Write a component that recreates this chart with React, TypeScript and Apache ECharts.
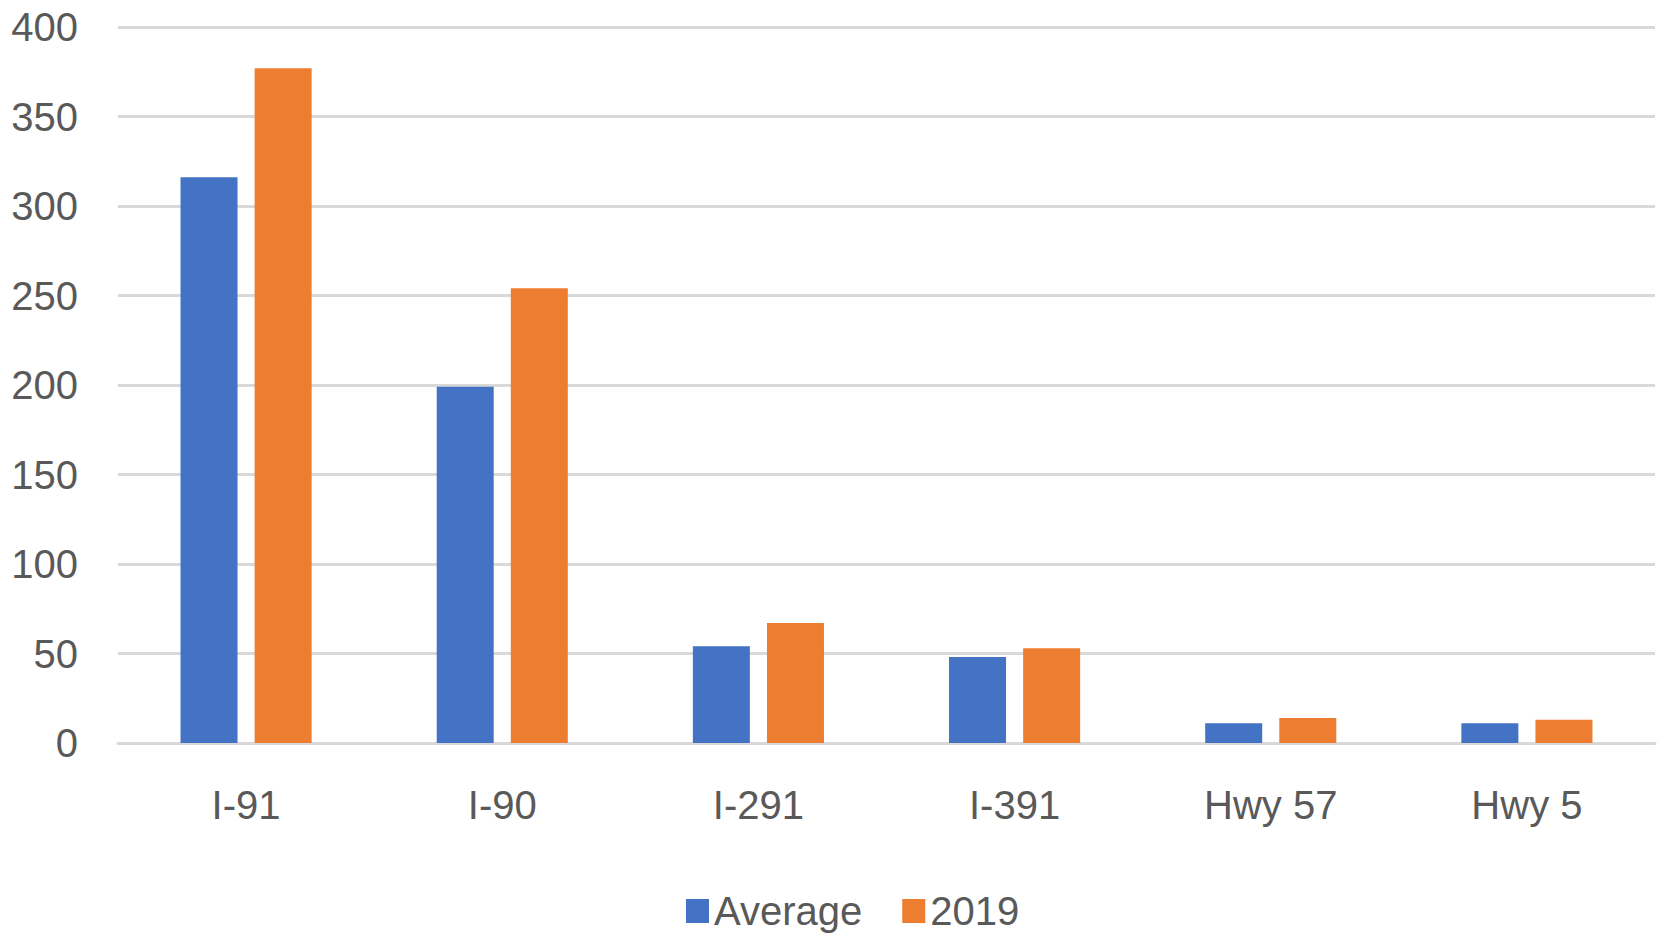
import React, { useEffect, useRef } from "react";
import * as echarts from "echarts";

const categories = ["I-91", "I-90", "I-291", "I-391", "Hwy 57", "Hwy 5"];
const averageValues = [316, 199, 54, 48, 11, 11];
const values2019 = [377, 254, 67, 53, 14, 13];
const seriesNames = ["Average", "2019"];

const FONT = "'Liberation Sans', Arial, sans-serif";
const TEXT = "#595959";

export default function App() {
  const ref = useRef<HTMLDivElement>(null);
  useEffect(() => {
    const chart = echarts.init(ref.current!, null, { renderer: "svg" });
    chart.setOption({
      animation: false,
      backgroundColor: "#ffffff",
      textStyle: { fontFamily: FONT },
      grid: { left: 118, right: 5, top: 27, bottom: 193, containLabel: false },
      legend: {
        data: seriesNames,
        top: 886,
        left: 681,
        itemWidth: 23,
        itemHeight: 24,
        itemGap: 40,
        icon: "rect",
        textStyle: { fontSize: 40, color: TEXT, fontFamily: FONT },
      },
      xAxis: {
        type: "category",
        data: categories,
        axisLine: { show: true, lineStyle: { color: "#d9d9d9", width: 3 } },
        axisTick: { show: false },
        axisLabel: { fontSize: 40, color: TEXT, margin: 42, fontFamily: FONT },
      },
      yAxis: {
        type: "value",
        min: 0,
        max: 400,
        interval: 50,
        axisLine: { show: false },
        axisTick: { show: false },
        splitLine: { lineStyle: { color: "#d9d9d9", width: 3 } },
        axisLabel: { fontSize: 40, color: TEXT, margin: 40, fontFamily: FONT },
      },
      series: [
        {
          name: seriesNames[0],
          type: "bar",
          data: averageValues,
          barWidth: 57,
          barGap: "30%",
          itemStyle: { color: "#4472C4" },
        },
        {
          name: seriesNames[1],
          type: "bar",
          data: values2019,
          barWidth: 57,
          barGap: "30%",
          itemStyle: { color: "#ED7D31" },
        },
      ],
    });
    return () => chart.dispose();
  }, []);
  return (
    <div
      ref={ref}
      style={{ position: "fixed", left: 0, top: 0, width: 1660, height: 936 }}
    />
  );
}
